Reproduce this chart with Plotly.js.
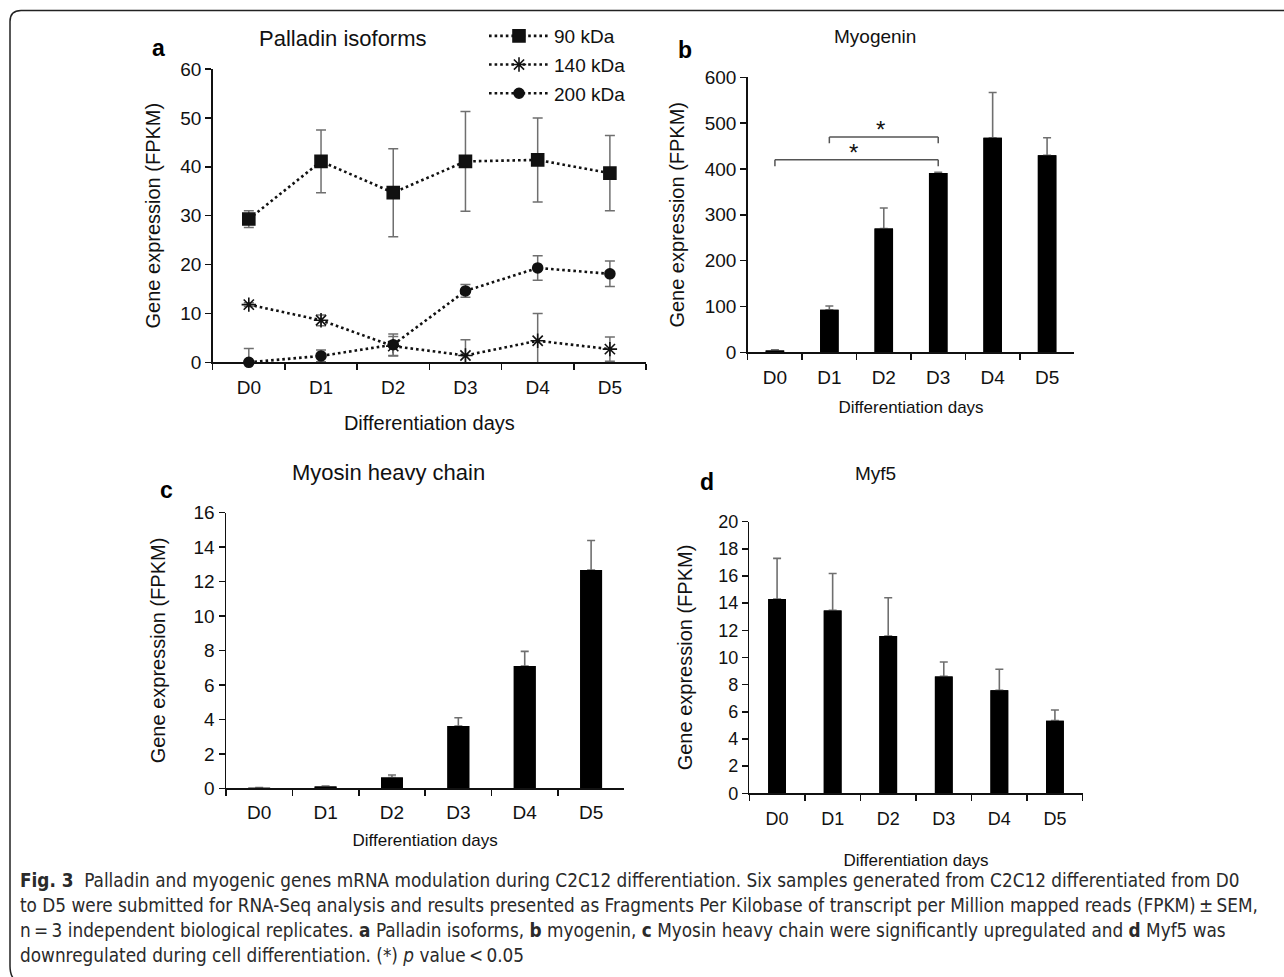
<!DOCTYPE html>
<html>
<head>
<meta charset="utf-8">
<script src="https://cdn.plot.ly/plotly-3.0.1.min.js"></script>
<style>
  html, body { margin: 0; padding: 0; background: #fff; }
  #chart { width: 1284px; height: 977px; }
</style>
</head>
<body>
<div id="chart"></div>
<script>
// ---------------- DATA ----------------
const days = ['D0', 'D1', 'D2', 'D3', 'D4', 'D5'];

// Panel a: Palladin isoforms (FPKM ± SEM)
const isoformNames = ['90 kDa', '140 kDa', '200 kDa'];
const pal90 = [29.3, 41.1, 34.7, 41.1, 41.4, 38.7];
const pal90Err = [1.7, 6.4, 9.0, 10.2, 8.6, 7.7];
const pal140 = [11.8, 8.6, 3.3, 1.4, 4.4, 2.7];
const pal140Err = [0.4, 1.1, 2.0, 3.2, 5.6, 2.5];
const pal200 = [0.0, 1.3, 3.6, 14.6, 19.3, 18.1];
const pal200Err = [2.8, 1.2, 2.2, 1.3, 2.5, 2.6];

// Panel b: Myogenin
const myogenin = [4, 93, 270, 391, 468, 430];
const myogeninErr = [1.5, 8, 45, 1.5, 99, 38];
// significance brackets in panel b
const sigFrom = ['D1', 'D0'];
const sigTo = ['D3', 'D3'];
const sigLevel = [470, 420];

// Panel c: Myosin heavy chain
const mhc = [0.03, 0.1, 0.62, 3.62, 7.1, 12.67];
const mhcErr = [0.01, 0.03, 0.15, 0.48, 0.85, 1.72];

// Panel d: Myf5
const myf5 = [14.3, 13.47, 11.58, 8.61, 7.58, 5.35];
const myf5Err = [3.0, 2.72, 2.82, 1.06, 1.55, 0.78];

// Tick labels / titles
const yTitle = 'Gene expression (FPKM)';
const xTitle = 'Differentiation days';
const panelTitles = ['Palladin isoforms', 'Myogenin', 'Myosin heavy chain', 'Myf5'];
const panelLetters = ['a', 'b', 'c', 'd'];
const captionLines = [
  '<b>Fig. 3</b>  Palladin and myogenic genes mRNA modulation during C2C12 differentiation. Six samples generated from C2C12 differentiated from D0',
  'to D5 were submitted for RNA-Seq analysis and results presented as Fragments Per Kilobase of transcript per Million mapped reads (FPKM)\u2009±\u2009SEM,',
  'n\u2009=\u20093 independent biological replicates. <b>a</b> Palladin isoforms, <b>b</b> myogenin, <b>c</b> Myosin heavy chain were significantly upregulated and <b>d</b> Myf5 was',
  'downregulated during cell differentiation. (*) <i>p</i> value\u2009&lt;\u20090.05'
];

// ---------------- LAYOUT HELPERS ----------------
const W = 1284, H = 977;
const px = x => x / W;
const py = y => 1 - y / H;
const FONT = 'Liberation Sans, Arial, sans-serif';
const INK = '#111111';
const ERR = '#6f6f6f';

function xAxis(domain, anchor, tickSize, titleSize, labelOff, standoff) {
  return {
    domain: domain, anchor: anchor, type: 'category', range: [-0.5, 5.5],
    showline: true, linecolor: INK, linewidth: 1.5, mirror: false,
    ticks: 'outside', tickson: 'boundaries', ticklen: 6, tickwidth: 1.5, tickcolor: INK,
    ticklabelstandoff: labelOff,
    showgrid: false, zeroline: false, fixedrange: true,
    tickfont: { family: FONT, size: tickSize, color: INK },
    title: { text: xTitle, font: { family: FONT, size: titleSize, color: INK }, standoff: standoff }
  };
}
function yAxis(domain, anchor, range, dtick, tickSize, standoff) {
  return {
    domain: domain, anchor: anchor, range: range, dtick: dtick,
    showline: true, linecolor: INK, linewidth: 1.5,
    ticks: 'outside', ticklen: 6, tickwidth: 1.5, tickcolor: INK,
    showgrid: false, zeroline: false, fixedrange: true,
    tickfont: { family: FONT, size: tickSize, color: INK },
    title: { text: yTitle, font: { family: FONT, size: 20, color: INK }, standoff: standoff }
  };
}

// ---------------- TRACES ----------------
const lineStyle = { color: INK, width: 2.6, dash: '2.6px,3px' };
function isoTrace(name, y, err, symbol, size, group) {
  return {
    type: 'scatter', mode: 'lines+markers', name: name, legendgroup: group,
    x: days, y: y, xaxis: 'x', yaxis: 'y', cliponaxis: false,
    line: lineStyle,
    marker: { symbol: symbol, size: size, color: INK, line: { color: INK, width: 1.6 } },
    error_y: { type: 'data', array: err, visible: true, color: ERR, thickness: 1.5, width: 5 }
  };
}
function barPair(y, err, xa, ya, widthFrac) {
  const base = {
    type: 'bar', x: days, y: y, xaxis: xa, yaxis: ya, showlegend: false,
    width: widthFrac, marker: { color: '#000000', line: { width: 0 } }, hoverinfo: 'x+y'
  };
  const withErr = Object.assign({}, base, {
    error_y: { type: 'data', symmetric: false, array: err, arrayminus: err.map(() => 0),
               visible: true, color: ERR, thickness: 1.6, width: 4 }
  });
  // second copy of the same bars drawn on top so the error whisker starts at the bar top
  const cover = Object.assign({}, base, { hoverinfo: 'skip' });
  return [withErr, cover];
}

const traces = [
  isoTrace(isoformNames[0], pal90, pal90Err, 'square', 12, 'g1'),
  isoTrace(isoformNames[1], pal140, pal140Err, 'asterisk-open', 12, 'g2'),
  isoTrace(isoformNames[2], pal200, pal200Err, 'circle', 10, 'g3'),
  ...barPair(myogenin, myogeninErr, 'x2', 'y2', 0.34),
  ...barPair(mhc, mhcErr, 'x3', 'y3', 0.33),
  ...barPair(myf5, myf5Err, 'x4', 'y4', 0.32)
];

// ---------------- ANNOTATIONS & SHAPES ----------------
const annotations = [];
const titlePos = [[343, 38, 22], [875, 37, 19], [388, 472, 22], [875, 473, 19]];
panelTitles.forEach((t, i) => {
  annotations.push({ text: t, xref: 'paper', yref: 'paper', x: px(titlePos[i][0]), y: py(titlePos[i][1]),
    xanchor: 'center', yanchor: 'middle', showarrow: false,
    font: { family: FONT, size: titlePos[i][2], color: INK } });
});
const letterPos = [[158, 48], [685, 50], [167, 490], [707, 482]];
panelLetters.forEach((t, i) => {
  annotations.push({ text: '<b>' + t + '</b>', xref: 'paper', yref: 'paper', x: px(letterPos[i][0]), y: py(letterPos[i][1]),
    xanchor: 'center', yanchor: 'middle', showarrow: false,
    font: { family: FONT, size: 23, color: '#000' } });
});
const capY = [880, 905, 930, 955];
captionLines.forEach((t, i) => {
  annotations.push({ text: t, xref: 'paper', yref: 'paper', x: px(18), y: py(capY[i]),
    xanchor: 'left', yanchor: 'middle', showarrow: false, align: 'left',
    font: { family: 'Liberation Sans Narrow, DejaVu Sans Condensed, sans-serif', size: 18.8, color: '#2a2a2a' } });
});

const shapes = [];
const drop = 14;
sigFrom.forEach((a, i) => {
  const b = sigTo[i], lv = sigLevel[i];
  const ln = { color: '#555', width: 1.5 };
  shapes.push({ type: 'line', xref: 'x2', yref: 'y2', x0: a, x1: b, y0: lv, y1: lv, line: ln });
  shapes.push({ type: 'line', xref: 'x2', yref: 'y2', x0: a, x1: a, y0: lv, y1: lv - drop, line: ln });
  shapes.push({ type: 'line', xref: 'x2', yref: 'y2', x0: b, x1: b, y0: lv, y1: lv - drop, line: ln });
  const mid = (days.indexOf(a) + days.indexOf(b)) / 2;
  annotations.push({ text: '*', xref: 'x2', yref: 'y2', x: mid, y: lv, xanchor: 'center', yanchor: 'bottom',
    showarrow: false, font: { family: FONT, size: 24, color: INK }, yshift: -8, xshift: -3 });
});

// figure frame with rounded top-left corner
const fx = v => px(v).toFixed(5), fy = v => py(v).toFixed(5);
shapes.push({
  type: 'path', xref: 'paper', yref: 'paper', layer: 'above',
  path: 'M' + fx(1284) + ',' + fy(10.5) + ' L' + fx(21) + ',' + fy(10.5) +
        ' Q' + fx(10) + ',' + fy(10.5) + ' ' + fx(10) + ',' + fy(21.5) +
        ' L' + fx(10) + ',' + fy(966) + ' Q' + fx(10) + ',' + fy(975) + ' ' + fx(14) + ',' + fy(979),
  line: { color: '#222', width: 1.5 }
});

const layout = {
  width: W, height: H,
  margin: { l: 0, r: 0, t: 0, b: 0, pad: 0 },
  paper_bgcolor: '#ffffff', plot_bgcolor: 'rgba(0,0,0,0)',
  font: { family: FONT, color: INK },
  showlegend: true,
  legend: {
    x: px(484), y: py(17), xanchor: 'left', yanchor: 'top',
    bgcolor: 'rgba(0,0,0,0)', borderwidth: 0,
    font: { family: FONT, size: 19, color: INK },
    traceorder: 'grouped', tracegroupgap: 1, itemwidth: 60
  },
  barmode: 'overlay',
  xaxis: xAxis([px(212.7), px(646)], 'y', 19, 20, 7, 19),
  yaxis: yAxis([py(362.3), py(69)], 'x', [0, 60], 10, 19, 14),
  xaxis2: xAxis([px(747.7), px(1074.3)], 'y2', 19, 17, 7, 14),
  yaxis2: yAxis([py(352.3), py(77.3)], 'x2', [0, 600], 100, 19, 14),
  xaxis3: xAxis([px(226), px(624.3)], 'y3', 19, 17, 6, 12),
  yaxis3: yAxis([py(788.3), py(512.7)], 'x3', [0, 16], 2, 19, 22),
  xaxis4: xAxis([px(749.3), px(1082.7)], 'y4', 18, 17, 9, 25),
  yaxis4: yAxis([py(793.3), py(521.7)], 'x4', [0, 20], 2, 18, 20),
  annotations: annotations,
  shapes: shapes
};

Plotly.newPlot('chart', traces, layout, { displayModeBar: false, staticPlot: true });
</script>
</body>
</html>
